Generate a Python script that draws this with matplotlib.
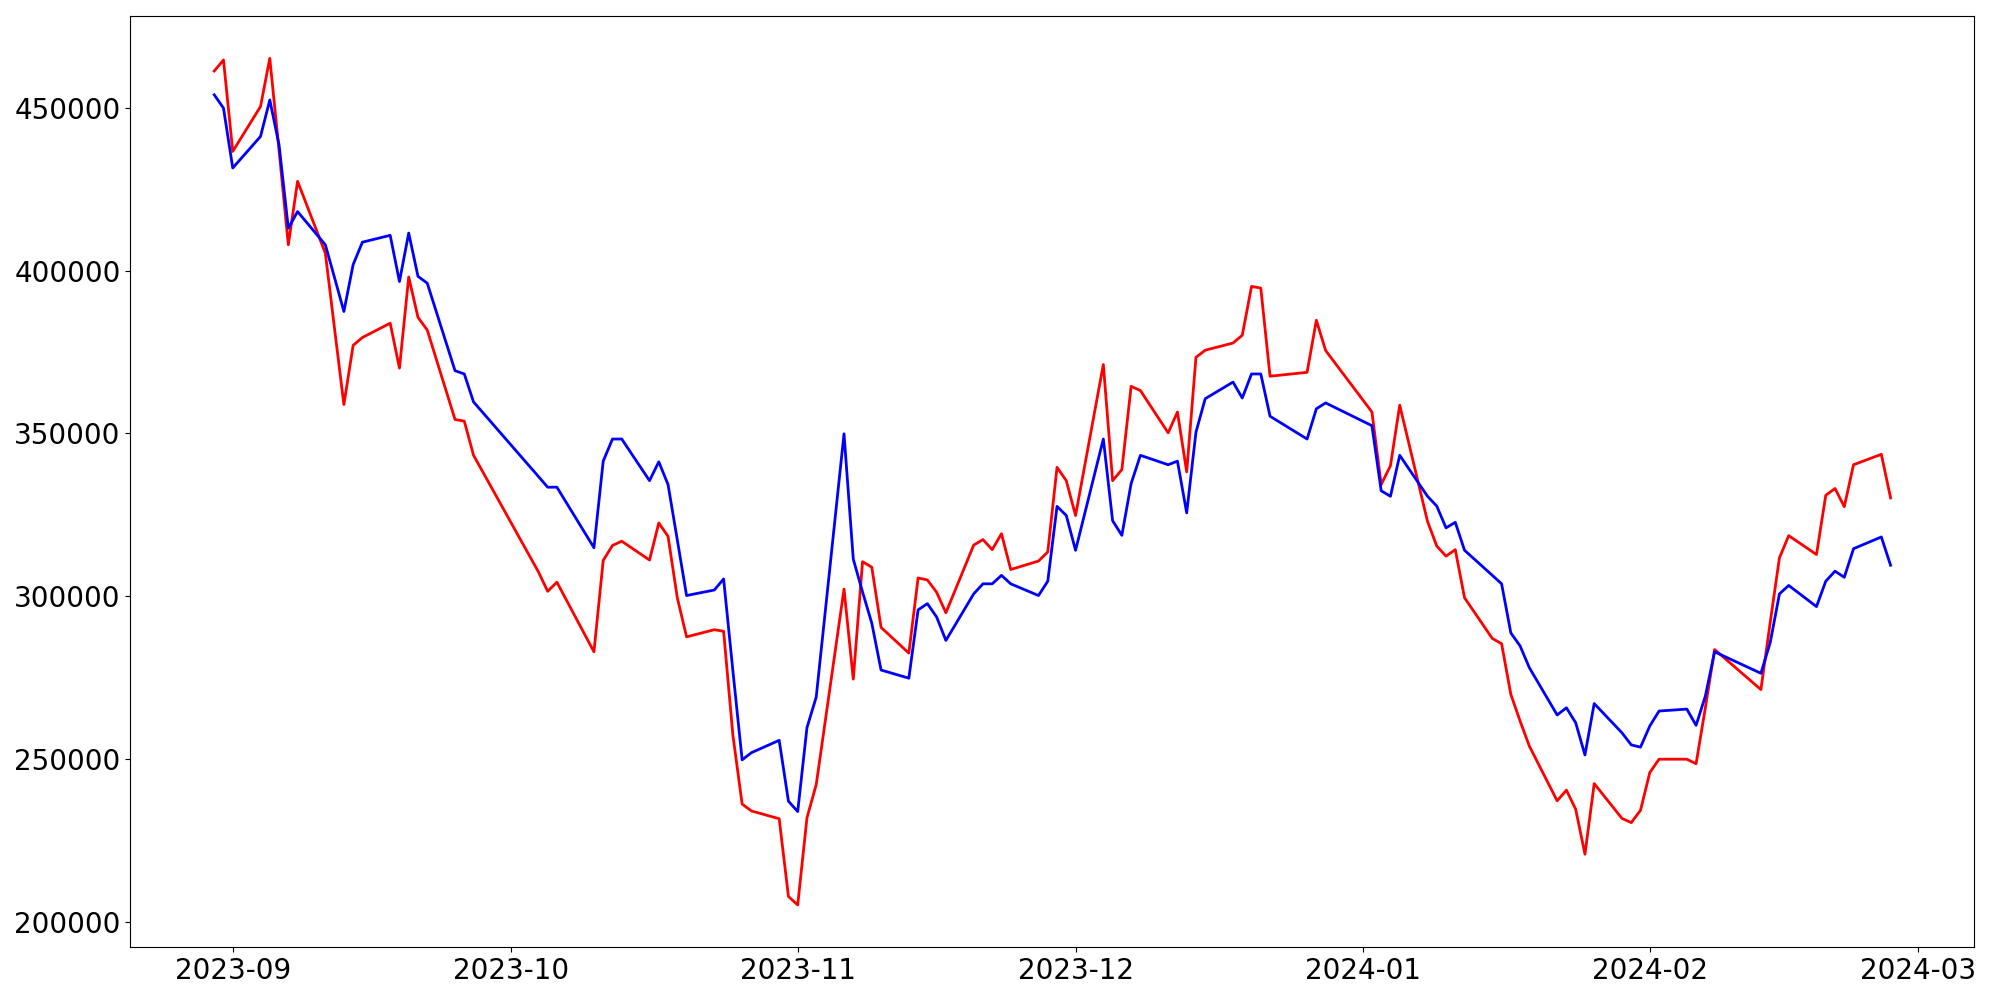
import numpy as np
import pandas as pd
import matplotlib
matplotlib.use("Agg")
import matplotlib.pyplot as plt

plt.rcParams['font.size'] = 20

# trading days (Korean market calendar)
dates = pd.to_datetime([
    '2023-08-30', '2023-08-31', '2023-09-01',
    '2023-09-04', '2023-09-05', '2023-09-06', '2023-09-07', '2023-09-08',
    '2023-09-11', '2023-09-12', '2023-09-13', '2023-09-14', '2023-09-15',
    '2023-09-18', '2023-09-19', '2023-09-20', '2023-09-21', '2023-09-22',
    '2023-09-25', '2023-09-26', '2023-09-27',
    '2023-10-04', '2023-10-05', '2023-10-06',
    '2023-10-10', '2023-10-11', '2023-10-12', '2023-10-13',
    '2023-10-16', '2023-10-17', '2023-10-18', '2023-10-19', '2023-10-20',
    '2023-10-23', '2023-10-24', '2023-10-25', '2023-10-26', '2023-10-27',
    '2023-10-30', '2023-10-31', '2023-11-01', '2023-11-02', '2023-11-03',
    '2023-11-06', '2023-11-07', '2023-11-08', '2023-11-09', '2023-11-10',
    '2023-11-13', '2023-11-14', '2023-11-15', '2023-11-16', '2023-11-17',
    '2023-11-20', '2023-11-21', '2023-11-22', '2023-11-23', '2023-11-24',
    '2023-11-27', '2023-11-28', '2023-11-29', '2023-11-30', '2023-12-01',
    '2023-12-04', '2023-12-05', '2023-12-06', '2023-12-07', '2023-12-08',
    '2023-12-11', '2023-12-12', '2023-12-13', '2023-12-14', '2023-12-15',
    '2023-12-18', '2023-12-19', '2023-12-20', '2023-12-21', '2023-12-22',
    '2023-12-26', '2023-12-27', '2023-12-28',
    '2024-01-02', '2024-01-03', '2024-01-04', '2024-01-05',
    '2024-01-08', '2024-01-09', '2024-01-10', '2024-01-11', '2024-01-12',
    '2024-01-15', '2024-01-16', '2024-01-17', '2024-01-18', '2024-01-19',
    '2024-01-22', '2024-01-23', '2024-01-24', '2024-01-25', '2024-01-26',
    '2024-01-29', '2024-01-30', '2024-01-31', '2024-02-01', '2024-02-02',
    '2024-02-05', '2024-02-06', '2024-02-07', '2024-02-08',
    '2024-02-13', '2024-02-14', '2024-02-15', '2024-02-16',
    '2024-02-19', '2024-02-20', '2024-02-21', '2024-02-22', '2024-02-23',
    '2024-02-26', '2024-02-27',
])

red_vals = [
    461400, 464800, 436700,
    450500, 465300, 437000, 408000, 427500,
    405400, 382000, 358900, 377100, 379500,
    383900, 370100, 398100, 385700, 381800,
    354300, 353800, 343300,
    307500, 301500, 304300,
    282900, 311000, 315600, 316900,
    311100, 322500, 318400, 299500, 287500,
    289700, 289200, 257300, 236100, 234000,
    231600, 207700, 205100, 231900, 242100,
    302200, 274500, 310600, 308900, 290400,
    282500, 305600, 305000, 301200, 294900,
    315700, 317400, 314300, 319200, 308200,
    310800, 313600, 339600, 335500, 324800,
    371200, 335500, 338900, 364500, 363200,
    350200, 356600, 338200, 373400, 375600,
    377800, 380200, 395200, 394700, 367600,
    368800, 384800, 375500,
    356600, 334300, 340100, 358700,
    323000, 315400, 312300, 314300, 299500,
    287000, 285400, 269800, 261600, 253900,
    237100, 240400, 234500, 220700, 242400,
    231700, 230400, 234200, 245800, 249900,
    249900, 248500, 265700, 283600,
    271300, 291900, 311800, 318600,
    312800, 331000, 333100, 327500, 340400,
    343600, 330200,
]

blue_vals = [
    454100, 450000, 431600,
    441300, 452500, 438700, 413100, 418200,
    408000, 397800, 387500, 401900, 408800,
    410900, 396700, 411600, 398300, 396200,
    369300, 368300, 359700,
    336800, 333500, 333500,
    314900, 341500, 348300, 348300,
    335500, 341300, 334300, 317300, 300200,
    301900, 305300, 277100, 249700, 251900,
    255700, 237000, 233800, 259600, 269000,
    349900, 311400, 301300, 291700, 277300,
    274800, 295800, 297700, 293600, 286400,
    300700, 303800, 303800, 306400, 303800,
    300200, 304600, 327600, 324800, 314100,
    348300, 323200, 318700, 334600, 343300,
    340400, 341500, 325600, 350400, 360700,
    365800, 360900, 368300, 368300, 355300,
    348300, 357600, 359400,
    352400, 332400, 330700, 343300,
    330700, 327700, 321000, 322700, 314100,
    306400, 303800, 288700, 284700, 278000,
    263500, 265700, 261100, 251200, 267000,
    258000, 254300, 253600, 260100, 264700,
    265300, 260300, 269300, 282900,
    276300, 285700, 300700, 303300,
    296800, 304600, 307700, 305800, 314600,
    318200, 309500,
]

fig, ax = plt.subplots(figsize=(20, 10), dpi=100)
ax.plot(dates, red_vals, color='red', linewidth=2)
ax.plot(dates, blue_vals, color='blue', linewidth=2)

fig.subplots_adjust(left=0.0652, right=0.9872, bottom=0.0527, top=0.984)
plt.savefig('out.png')
